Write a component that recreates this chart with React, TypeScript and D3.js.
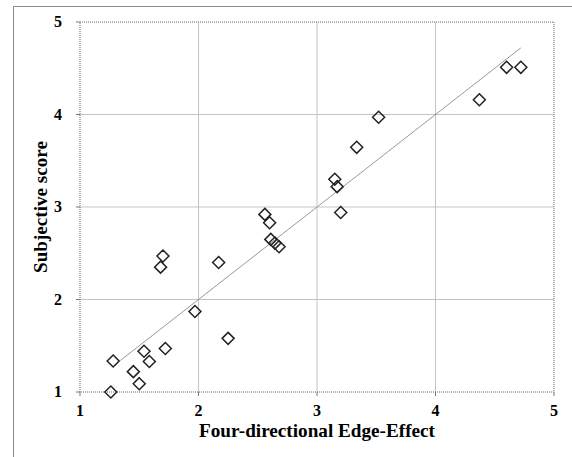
import React, { useEffect } from 'react';
import * as d3 from 'd3';

// Data
const edgeEffect = [
	1.7, 1.68, 2.17, 1.97, 2.25, 1.54, 1.72, 1.585, 1.28, 1.45, 1.5, 1.26,
	3.15, 3.17, 3.2, 2.56, 2.6, 2.61, 2.645, 2.68,
	3.52, 3.335,
	4.6, 4.72, 4.37,
];
const subjectiveScore = [
	2.47, 2.35, 2.4, 1.87, 1.58, 1.44, 1.47, 1.33, 1.335, 1.22, 1.09, 1.0,
	3.3, 3.22, 2.94, 2.92, 2.83, 2.65, 2.61, 2.57,
	3.97, 3.645,
	4.51, 4.51, 4.16,
];
const trendX = [1.34, 4.72];
const trendY = [1.34, 4.72];
const xTicks = [1, 2, 3, 4, 5];
const yTicks = [1, 2, 3, 4, 5];

const W = 572;
const H = 457;
const margin = { top: 22, right: 18, bottom: 65, left: 80 };

function App() {
	useEffect(() => {
		document.body.style.margin = '0';
	}, []);

	const x = d3
		.scaleLinear()
		.domain([1, 5])
		.range([margin.left, W - margin.right]);
	const y = d3
		.scaleLinear()
		.domain([1, 5])
		.range([H - margin.bottom, margin.top]);

	const points = edgeEffect.map((d, i) => ({ x: d, y: subjectiveScore[i] }));
	const trend = trendX.map((d, i) => [d, trendY[i]] as [number, number]);
	const line = d3
		.line<[number, number]>()
		.x((d) => x(d[0]))
		.y((d) => y(d[1]));

	const r = 6;
	const diamond = `M0,${-r}L${r},0L0,${r}L${-r},0Z`;
	const font = '"Liberation Serif", "Times New Roman", serif';

	return (
		<svg width={W} height={H} style={{ display: 'block' }}>
			<rect width={W} height={H} fill="#fff" />
			{/* outer frame */}
			<path d={`M13.5,${H}V6.5H${W}`} fill="none" stroke="#8a8a8a" strokeWidth={1} />

			{/* grid */}
			{xTicks.slice(1, -1).map((t) => (
				<line key={'gx' + t} x1={x(t)} x2={x(t)} y1={y(1)} y2={y(5)} stroke="#c4c4c4" strokeWidth={1} />
			))}
			{yTicks.slice(1, -1).map((t) => (
				<line key={'gy' + t} x1={x(1)} x2={x(5)} y1={y(t)} y2={y(t)} stroke="#c4c4c4" strokeWidth={1} />
			))}

			{/* plot border */}
			<rect
				x={x(1)}
				y={y(5)}
				width={x(5) - x(1)}
				height={y(1) - y(5)}
				fill="none"
				stroke="#666"
				strokeWidth={1}
				strokeDasharray="1,1"
			/>

			{/* tick marks */}
			{xTicks.map((t) => (
				<line key={'tx' + t} x1={x(t)} x2={x(t)} y1={y(1)} y2={y(1) + 4} stroke="#777" />
			))}
			{yTicks.map((t) => (
				<line key={'ty' + t} x1={x(1) - 4} x2={x(1)} y1={y(t)} y2={y(t)} stroke="#777" />
			))}

			{/* trend line */}
			<path d={line(trend) || ''} fill="none" stroke="#999" strokeWidth={1} />

			{/* points */}
			{points.map((p, i) => (
				<path
					key={i}
					d={diamond}
					transform={`translate(${x(p.x)},${y(p.y)})`}
					fill="none"
					stroke="#222"
					strokeWidth={1.5}
				/>
			))}

			{/* tick labels */}
			{xTicks.map((t) => (
				<text key={'lx' + t} x={x(t)} y={y(1) + 24} textAnchor="middle" fontFamily={font} fontWeight="bold" fontSize={16}>
					{t}
				</text>
			))}
			{yTicks.map((t) => (
				<text key={'ly' + t} x={x(1) - 18} y={y(t) + 5} textAnchor="end" fontFamily={font} fontWeight="bold" fontSize={16}>
					{t}
				</text>
			))}

			{/* axis titles */}
			<text
				x={(x(1) + x(5)) / 2}
				y={437}
				textAnchor="middle"
				fontFamily={font}
				fontWeight="bold"
				fontSize={19}
				textLength={236}
				lengthAdjust="spacingAndGlyphs"
			>
				Four-directional Edge-Effect
			</text>
			<text
				transform={`translate(47,${(y(1) + y(5)) / 2}) rotate(-90)`}
				textAnchor="middle"
				fontFamily={font}
				fontWeight="bold"
				fontSize={19}
				textLength={132}
				lengthAdjust="spacingAndGlyphs"
			>
				Subjective score
			</text>
		</svg>
	);
}

export default App;
